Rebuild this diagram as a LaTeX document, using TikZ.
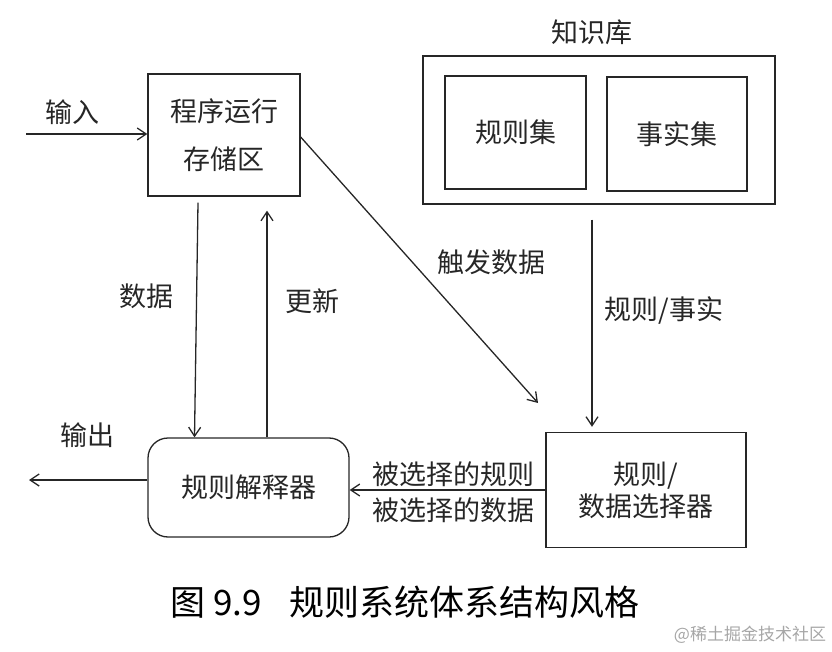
\documentclass[tikz,border=0pt]{standalone}
\usepackage{fontspec}
\setmainfont{Noto Sans CJK SC}
\usepackage{tikz}
\usetikzlibrary{arrows.meta}

\begin{document}
\begin{tikzpicture}[x=1pt,y=-1pt,line width=1.3pt,color=black!85,
  box/.style={draw,minimum width=#1},
  lbl/.style={font=\fontsize{27}{32}\selectfont,inner sep=0pt},
  arr/.style={-{Straight Barb[length=9pt,width=12pt]}}]
\useasboundingbox (0,0) rectangle (832,652);

\node[box=152pt,minimum height=122pt,lbl,align=center,font=\fontsize{27}{48}\selectfont] (mem) at (224,135) {程序运行\\存储区};
\node[box=352pt,minimum height=148pt] (kb) at (599,130) {};
\node[box=141pt,minimum height=113pt,lbl] (rules) at (515.5,132.5) {规则集};
\node[box=140pt,minimum height=114pt,lbl] (facts) at (677,134) {事实集};
\node[lbl] (kbl) at (592,32) {知识库};
\node[box=200pt,minimum height=115pt,lbl,align=center] (sel) at (646,490) {规则/\\数据选择器};
\node[box=201pt,minimum height=99pt,rounded corners=20pt,lbl] (interp) at (248.5,487.5) {规则解释器};

\coordinate (in) at (26,134);
\coordinate (out) at (29,480);
\coordinate (trig) at (538,403);

\draw[arr] (in) -- (mem.west |- in);
\draw[arr] ([xshift=-26pt,yshift=-6pt]mem.south) -- node[lbl,left=22pt,pos=0.4] (1) {数据} ([xshift=-54pt]interp.north);
\draw[arr] ([xshift=18.5pt]interp.north) -- node[lbl,right=18pt,pos=0.6] (2) {更新} ([xshift=43pt,yshift=-14pt]mem.south);
\draw[arr] ([yshift=-2pt]mem.east) -- (trig);
\draw[arr] ([xshift=-7pt,yshift=-15pt]kb.south) -- node[lbl,right=12pt,pos=0.44] (3) {规则/事实} ([xshift=-54pt,yshift=5pt]sel.north);
\draw[arr] (sel.west) -- (interp.east |- sel.west);
\draw[arr] ([yshift=7.5pt]interp.west) -- (out);

\node[lbl] (4) at (72,112) {输入};
\node[lbl] (5) at (87,435) {输出};
\node[lbl] (6) at (491,262) {触发数据};
\node[lbl,align=center,font=\fontsize{27}{36}\selectfont] (7) at (453,492) {被选择的规则\\被选择的数据};

\node[inner sep=0pt,font=\fontsize{35}{40}\selectfont,text=black] (cap) at (405,602) {图 9.9\hspace{0.8em}规则系统体系结构风格};
\node[inner sep=0pt,font=\fontsize{17}{20}\selectfont,text=black!35] (wm) at (750,635) {@稀土掘金技术社区};
\end{tikzpicture}
\end{document}
